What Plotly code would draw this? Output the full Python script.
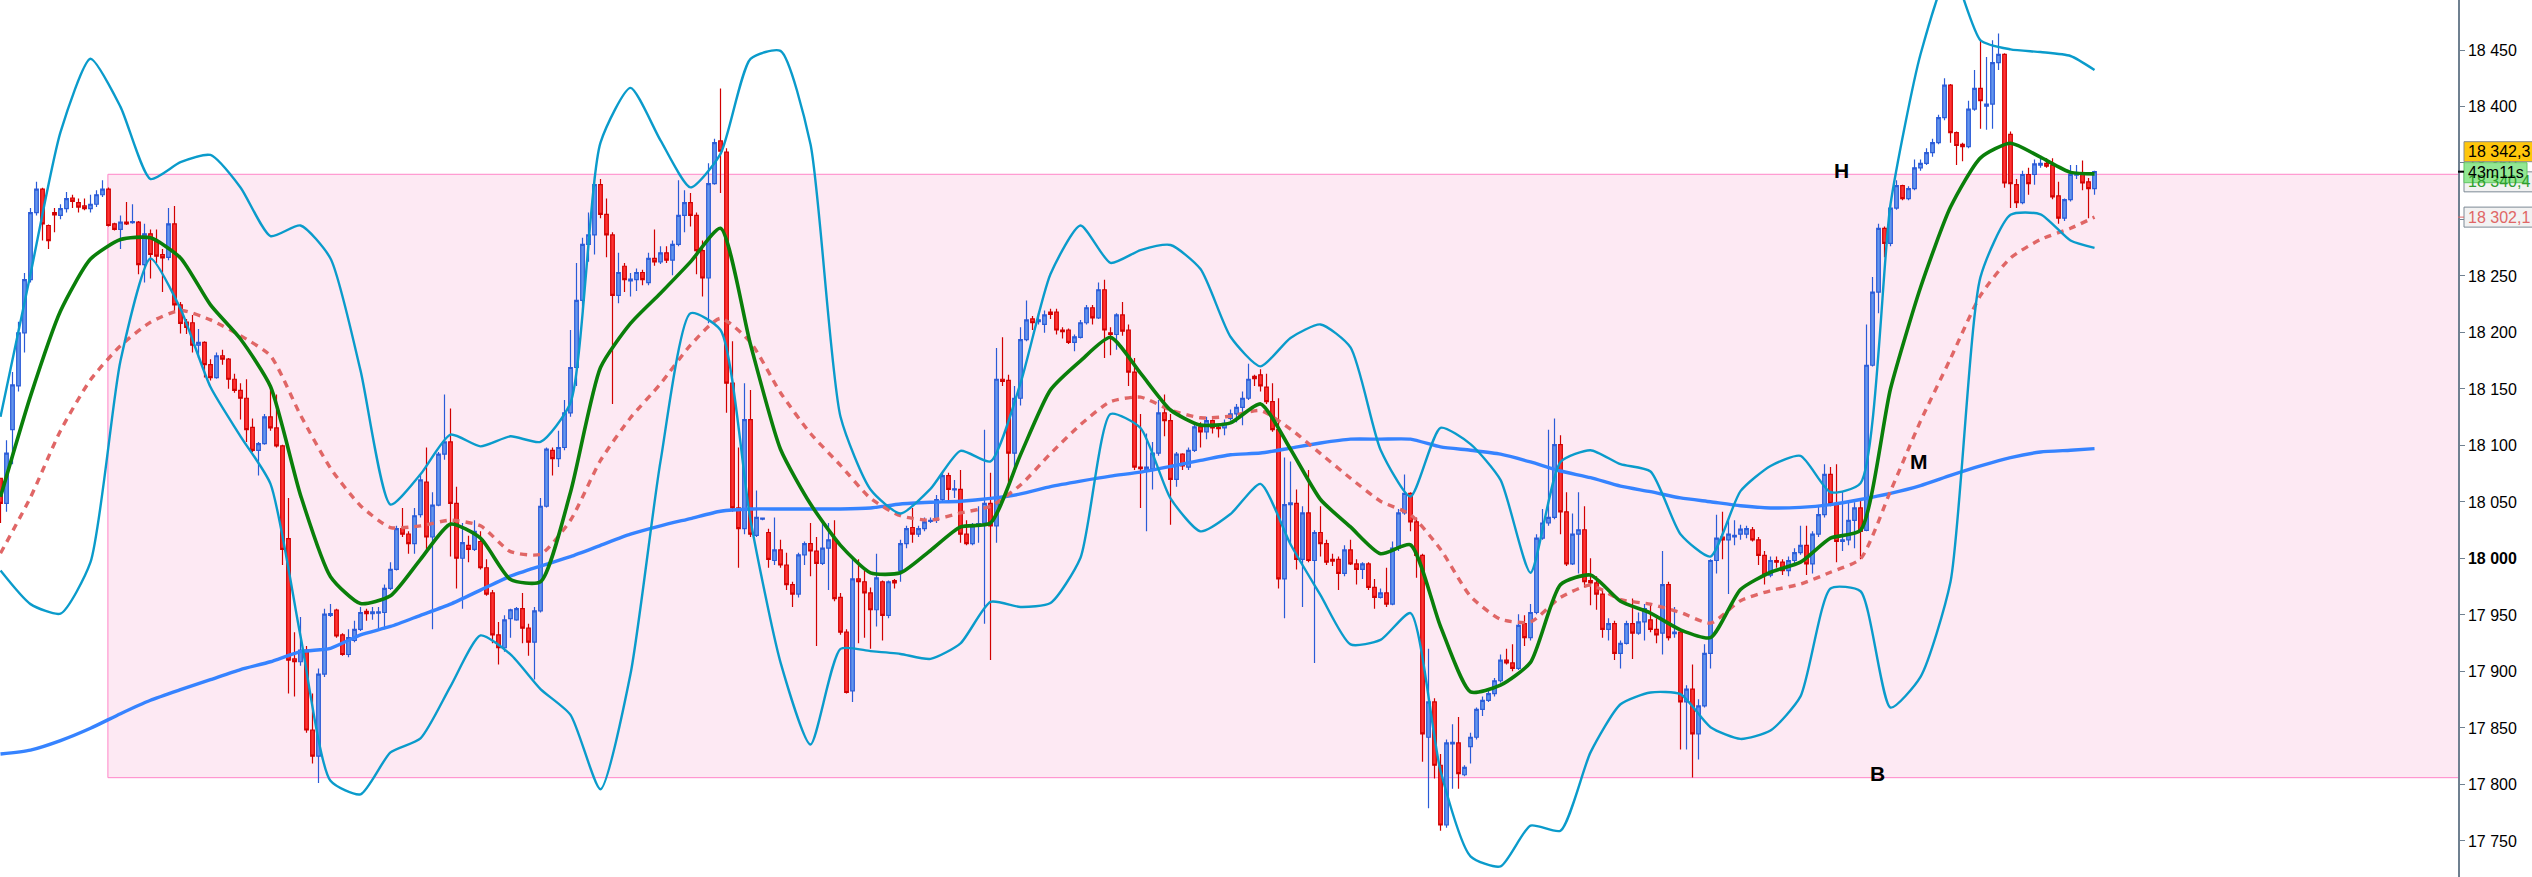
import plotly.graph_objects as go

# ---------------- candle data (index = bar number) ----------------
opens = [
18071.0, 18048.7, 18114.0, 18152.7, 18199.7, 18246.7, 18306.1, 18326.9, 18294.7, 18306.1,
18303.6, 18309.6, 18319.0, 18315.0, 18312.0, 18309.6, 18313.5, 18321.9, 18326.9, 18296.2,
18291.2, 18297.7, 18297.2, 18297.7, 18260.1, 18287.3, 18280.4, 18269.0, 18266.5, 18296.2,
18224.4, 18209.1, 18208.6, 18188.8, 18191.3, 18171.5, 18160.1, 18179.4, 18176.4, 18158.6,
18148.7, 18141.8, 18116.0, 18095.7, 18101.7, 18125.4, 18115.5, 18099.7, 18017.5, 17911.1,
17908.6, 17919.0, 17848.2, 17825.0, 17897.7, 17949.7, 17954.2, 17932.4, 17915.0, 17927.4,
17937.3, 17953.2, 17951.2, 17951.7, 17952.2, 17973.5, 17990.3, 18026.4, 18021.5, 18013.1,
18038.8, 18067.5, 18019.0, 18047.2, 18092.3, 18103.1, 18048.7, 18000.2, 18011.6, 18008.1,
18015.0, 17991.8, 17969.5, 17932.4, 17921.0, 17946.7, 17945.7, 17955.6, 17938.3, 17925.9,
17953.7, 18046.2, 18095.7, 18088.3, 18098.2, 18128.9, 18169.0, 18228.4, 18277.9, 18286.3,
18330.8, 18304.6, 18286.3, 18232.8, 18258.6, 18245.7, 18246.7, 18253.1, 18244.2, 18265.5,
18262.5, 18270.5, 18264.0, 18277.9, 18303.6, 18315.0, 18303.6, 18272.4, 18248.2, 18331.8,
18369.5, 18359.6, 18155.1, 18044.7, 18026.4, 18122.9, 18020.5, 18034.8, 18023.0, 17998.2,
18007.6, 17994.2, 17976.9, 17968.5, 18003.2, 18013.1, 18006.6, 17995.7, 18009.1, 18017.5,
17965.5, 17934.8, 17882.9, 17981.9, 17979.4, 17969.5, 17954.6, 17979.4, 17949.7, 17980.4,
17989.3, 18013.1, 18027.4, 18021.5, 18026.4, 18032.9, 18033.8, 18052.2, 18073.4, 18060.6,
18061.1, 18021.5, 18013.1, 18029.9, 18031.4, 18048.7, 18028.9, 18158.6, 18157.6, 18093.2,
18141.8, 18193.7, 18212.0, 18209.6, 18207.1, 18218.0, 18218.0, 18202.2, 18202.2, 18191.3,
18195.7, 18208.6, 18221.9, 18213.0, 18237.8, 18199.7, 18198.2, 18215.5, 18202.2, 18165.0,
18080.9, 18078.4, 18079.4, 18093.2, 18128.9, 18122.0, 18070.0, 18092.3, 18080.9, 18095.7,
18116.5, 18112.1, 18122.0, 18116.0, 18115.5, 18123.9, 18127.9, 18133.8, 18141.8, 18161.1,
18162.5, 18151.7, 18138.8, 18114.0, 17981.9, 18047.7, 18048.7, 17999.2, 18040.3, 17998.2,
18023.0, 18013.1, 17999.2, 17999.2, 17986.8, 18007.6, 17995.2, 17990.3, 17995.2, 17974.4,
17965.5, 17969.5, 17959.6, 18009.1, 18040.3, 18057.6, 18032.4, 18002.7, 17841.8, 17873.0,
17817.0, 17764.1, 17835.8, 17836.8, 17808.6, 17833.4, 17841.8, 17866.5, 17874.5, 17880.4,
17891.8, 17910.1, 17907.6, 17902.7, 17942.3, 17929.9, 17952.2, 18018.0, 18031.4, 18036.3,
18100.7, 18041.3, 17995.2, 18021.5, 18025.4, 17980.4, 17978.4, 17968.5, 17937.3, 17942.3,
17916.0, 17924.9, 17942.3, 17933.9, 17943.8, 17945.7, 17937.3, 17933.9, 17976.9, 17933.4,
17934.8, 17873.0, 17884.4, 17844.8, 17869.5, 17916.0, 17998.2, 18019.0, 18016.5, 18019.0,
18021.5, 18021.5, 18025.4, 18016.5, 18002.7, 17985.3, 17998.2, 17996.7, 17989.3, 17998.2,
18005.1, 18011.6, 17995.2, 18021.5, 18038.8, 18074.4, 18048.7, 18015.0, 18016.5, 18033.8,
18044.7, 18024.9, 18171.0, 18235.8, 18292.2, 18278.9, 18310.1, 18329.9, 18318.5, 18327.4,
18345.7, 18349.7, 18359.1, 18368.0, 18390.2, 18419.0, 18376.9, 18366.5, 18364.5, 18397.7,
18416.0, 18400.2, 18402.1, 18438.8, 18446.2, 18375.4, 18330.8, 18315.0, 18339.8, 18339.8,
18348.2, 18349.7, 18348.2, 18320.9, 18301.2, 18317.5, 18339.3, 18339.8, 18333.3, 18327.4,
]
highs = [
18071.0, 18104.6, 18165.0, 18209.6, 18252.6, 18310.1, 18333.3, 18328.0, 18295.5, 18310.1,
18313.5, 18324.4, 18321.9, 18318.5, 18318.5, 18321.9, 18325.9, 18334.8, 18328.4, 18297.2,
18303.6, 18315.5, 18313.5, 18298.7, 18296.2, 18291.2, 18291.2, 18273.9, 18310.1, 18312.0,
18226.9, 18212.0, 18215.5, 18203.1, 18192.3, 18176.4, 18182.3, 18184.8, 18177.4, 18163.5,
18155.1, 18158.6, 18123.9, 18103.1, 18127.9, 18152.7, 18145.2, 18100.7, 18053.6, 17934.8,
17948.2, 17922.5, 17880.4, 17902.7, 17955.6, 17959.6, 17955.6, 17933.9, 17937.3, 17944.8,
17957.1, 17955.6, 17957.1, 17957.1, 17976.9, 17996.7, 18028.9, 18044.7, 18024.0, 18044.7,
18074.4, 18098.2, 18058.6, 18094.2, 18145.2, 18132.8, 18063.5, 18031.4, 18020.0, 18033.8,
18024.0, 17999.2, 17972.0, 17943.8, 17949.7, 17955.6, 17957.1, 17969.5, 17942.3, 17957.1,
18053.6, 18098.2, 18098.2, 18113.1, 18140.3, 18202.2, 18261.5, 18283.8, 18306.1, 18338.3,
18335.8, 18318.5, 18288.8, 18270.5, 18261.5, 18252.6, 18256.6, 18255.6, 18270.5, 18291.2,
18276.4, 18276.4, 18281.3, 18334.8, 18325.9, 18323.4, 18306.1, 18281.3, 18349.7, 18371.4,
18416.0, 18363.0, 18192.3, 18098.2, 18155.1, 18149.2, 18060.1, 18036.3, 18026.4, 18036.3,
18016.5, 18005.1, 17979.4, 18005.1, 18015.0, 18031.4, 18019.0, 18033.8, 18031.4, 18033.8,
17969.5, 17937.3, 17999.2, 17999.2, 17989.3, 17974.4, 18004.2, 17980.4, 17980.4, 17981.9,
18016.5, 18028.9, 18044.7, 18028.9, 18036.3, 18036.3, 18056.1, 18075.9, 18075.9, 18069.5,
18078.4, 18033.8, 18031.4, 18046.2, 18114.0, 18075.9, 18186.3, 18195.7, 18162.5, 18152.7,
18204.6, 18228.4, 18214.5, 18217.0, 18219.5, 18221.0, 18221.0, 18204.6, 18203.6, 18198.2,
18211.1, 18224.4, 18224.4, 18244.2, 18246.7, 18204.6, 18217.0, 18226.9, 18207.1, 18177.4,
18127.9, 18110.6, 18103.1, 18140.3, 18145.2, 18127.9, 18094.2, 18093.2, 18098.2, 18120.5,
18120.5, 18125.4, 18123.0, 18118.0, 18123.0, 18131.9, 18136.8, 18147.7, 18172.4, 18162.5,
18167.5, 18163.5, 18155.1, 18141.8, 18089.3, 18085.9, 18061.1, 18046.2, 18078.4, 18024.9,
18046.2, 18016.5, 18004.2, 18001.7, 18011.6, 18016.5, 17999.2, 17996.7, 17996.7, 17981.9,
17973.5, 17991.8, 18015.0, 18043.7, 18074.4, 18058.6, 18036.3, 18004.2, 17920.0, 17876.4,
17826.9, 17839.8, 17853.2, 17859.6, 17817.0, 17845.7, 17868.0, 17877.9, 17882.9, 17894.2,
17915.0, 17920.0, 17924.0, 17950.7, 17949.7, 17959.6, 18021.5, 18043.7, 18114.0, 18123.9,
18109.1, 18058.6, 18039.8, 18058.6, 18046.2, 18000.2, 17984.3, 17972.0, 17947.2, 17944.8,
17927.4, 17944.8, 17964.5, 17952.2, 17959.6, 17959.6, 17947.2, 18006.6, 17979.4, 17957.1,
17937.3, 17887.8, 17906.1, 17875.4, 17924.0, 17999.2, 18038.8, 18041.3, 18033.8, 18033.8,
18029.9, 18028.9, 18027.9, 18019.0, 18006.6, 18001.7, 18001.7, 17999.2, 18001.7, 18009.1,
18028.9, 18028.9, 18024.0, 18046.2, 18083.3, 18080.9, 18083.3, 18059.6, 18051.2, 18049.7,
18051.2, 18207.1, 18249.2, 18296.2, 18293.7, 18313.5, 18334.8, 18330.8, 18329.4, 18353.1,
18353.1, 18363.0, 18371.4, 18392.7, 18424.9, 18419.9, 18377.9, 18368.0, 18405.1, 18432.3,
18458.6, 18443.7, 18458.6, 18464.5, 18447.2, 18377.9, 18335.8, 18343.2, 18345.7, 18353.1,
18355.6, 18354.1, 18354.1, 18333.3, 18318.5, 18348.2, 18348.2, 18352.1, 18336.8, 18343.2,
]
lows = [
18031.4, 18041.3, 18083.3, 18147.7, 18182.3, 18244.2, 18303.6, 18281.3, 18273.9, 18288.8,
18300.2, 18306.1, 18310.1, 18306.1, 18308.1, 18306.1, 18311.0, 18320.0, 18293.7, 18290.3,
18273.9, 18295.2, 18296.2, 18251.6, 18244.2, 18247.7, 18261.5, 18235.8, 18264.0, 18218.0,
18199.2, 18198.7, 18182.3, 18177.4, 18160.1, 18157.6, 18159.1, 18171.5, 18150.2, 18146.7,
18122.9, 18103.1, 18094.2, 18073.4, 18100.7, 18113.1, 18098.2, 17994.2, 17880.4, 17877.9,
17905.1, 17845.7, 17818.5, 17801.2, 17895.2, 17948.2, 17929.9, 17914.0, 17912.6, 17925.9,
17935.8, 17944.8, 17945.7, 17937.3, 17937.3, 17972.0, 17989.3, 18019.0, 18004.2, 18004.2,
18036.3, 18008.1, 17937.3, 18046.2, 18087.3, 18001.7, 17973.5, 17955.6, 17996.7, 18006.6,
17990.3, 17967.0, 17924.9, 17906.1, 17917.5, 17929.9, 17944.8, 17924.9, 17914.0, 17892.8,
17952.2, 18045.2, 18073.4, 18080.9, 18095.7, 18125.4, 18152.7, 18219.5, 18262.5, 18269.0,
18301.2, 18266.5, 18136.8, 18225.9, 18235.8, 18231.8, 18236.8, 18241.7, 18241.7, 18259.1,
18260.6, 18261.5, 18250.7, 18276.4, 18288.8, 18293.7, 18251.6, 18231.8, 18208.1, 18330.8,
18323.4, 18128.9, 18041.3, 17991.8, 18021.5, 18019.0, 18019.0, 18033.8, 17991.8, 17994.2,
17991.8, 17972.0, 17957.1, 17965.5, 17994.2, 17984.3, 17922.5, 17994.2, 17972.0, 17962.1,
17932.4, 17880.4, 17873.0, 17924.9, 17929.9, 17920.0, 17939.8, 17927.4, 17947.2, 17973.5,
17979.4, 18009.1, 18014.0, 18019.0, 18024.0, 18031.4, 18031.4, 18050.2, 18051.2, 18053.6,
18014.0, 18011.6, 18011.6, 18014.0, 17942.3, 17910.1, 18014.0, 18152.7, 18063.5, 18075.9,
18135.3, 18192.3, 18202.2, 18207.1, 18199.7, 18212.0, 18198.2, 18194.7, 18189.8, 18183.3,
18194.7, 18207.1, 18207.1, 18212.0, 18177.4, 18179.9, 18184.8, 18197.2, 18152.7, 18078.4,
18044.7, 18024.0, 18061.1, 18090.8, 18108.1, 18029.9, 18063.5, 18078.4, 18078.4, 18094.2,
18098.2, 18105.6, 18110.6, 18107.1, 18109.1, 18122.0, 18120.5, 18118.0, 18140.3, 18152.7,
18147.7, 18136.8, 18112.1, 17973.5, 17947.2, 18011.6, 17990.3, 17957.1, 17996.7, 17907.6,
18001.7, 17994.2, 17993.3, 17972.0, 17984.3, 17994.2, 17976.9, 17981.9, 17972.0, 17955.6,
17964.5, 17957.1, 17958.6, 18006.6, 18038.8, 18024.0, 17982.9, 17820.0, 17778.9, 17805.2,
17759.1, 17761.6, 17796.3, 17796.3, 17807.2, 17818.5, 17839.8, 17860.6, 17873.0, 17877.9,
17890.3, 17906.1, 17900.2, 17901.2, 17922.5, 17927.4, 17950.7, 18016.5, 18028.9, 18034.8,
18021.5, 17993.3, 17994.2, 17986.8, 17974.4, 17958.6, 17954.6, 17929.9, 17927.4, 17910.1,
17902.7, 17923.9, 17911.1, 17932.4, 17927.4, 17934.8, 17924.9, 17915.0, 17927.4, 17929.9,
17830.9, 17830.9, 17806.1, 17822.0, 17868.0, 17902.7, 17986.8, 17999.2, 17968.5, 18011.6,
18016.5, 18018.0, 18015.0, 17994.2, 17976.9, 17983.4, 17991.8, 17985.3, 17984.3, 17994.2,
18003.2, 17985.3, 17986.8, 18019.0, 18036.3, 18046.2, 17996.7, 18006.6, 18011.6, 18009.1,
17999.2, 18024.0, 18170.0, 18217.0, 18266.5, 18276.4, 18308.6, 18317.0, 18317.0, 18325.9,
18343.2, 18348.2, 18355.6, 18366.5, 18387.8, 18368.0, 18348.2, 18351.6, 18363.0, 18396.2,
18380.3, 18379.4, 18380.3, 18432.3, 18328.0, 18310.1, 18310.1, 18313.5, 18321.9, 18330.8,
18345.7, 18345.7, 18318.0, 18296.2, 18298.7, 18316.0, 18335.8, 18325.9, 18301.2, 18321.9,
]
closes = [
18048.7, 18093.2, 18153.6, 18199.7, 18246.7, 18306.1, 18326.9, 18296.2, 18281.3, 18304.1,
18309.6, 18318.5, 18316.0, 18311.0, 18309.6, 18313.5, 18321.9, 18326.9, 18294.7, 18291.2,
18297.7, 18296.2, 18298.2, 18260.1, 18287.3, 18269.0, 18267.5, 18266.0, 18296.2, 18224.4,
18208.1, 18204.6, 18188.8, 18191.3, 18171.5, 18160.1, 18179.4, 18176.4, 18158.6, 18148.7,
18141.8, 18114.0, 18095.7, 18101.7, 18125.4, 18115.5, 18099.7, 18008.1, 17910.1, 17908.6,
17919.0, 17848.2, 17825.0, 17897.7, 17950.7, 17951.2, 17931.4, 17915.0, 17929.9, 17937.3,
17952.2, 17951.2, 17952.7, 17952.7, 17973.5, 17990.3, 18026.4, 18021.5, 18013.1, 18037.8,
18069.5, 18019.0, 18047.2, 18092.3, 18103.1, 18048.7, 18000.2, 18014.0, 18008.1, 18024.0,
17991.8, 17968.5, 17932.4, 17921.0, 17945.7, 17954.6, 17955.6, 17938.3, 17925.9, 17953.7,
18046.2, 18096.7, 18088.3, 18098.2, 18128.9, 18169.0, 18228.4, 18277.9, 18286.3, 18330.8,
18304.6, 18286.3, 18232.8, 18253.1, 18246.7, 18247.2, 18253.1, 18246.7, 18265.5, 18262.5,
18270.5, 18264.0, 18277.9, 18303.6, 18315.0, 18303.6, 18272.4, 18248.2, 18331.8, 18368.0,
18360.5, 18155.1, 18044.7, 18026.4, 18122.9, 18021.5, 18036.3, 18035.8, 17999.2, 18007.6,
17994.2, 17976.9, 17968.5, 18003.2, 18013.1, 18006.6, 17995.7, 18009.1, 18016.5, 17964.5,
17934.8, 17881.4, 17981.9, 17979.4, 17969.5, 17954.6, 17982.9, 17949.7, 17979.4, 17978.4,
18013.1, 18026.4, 18021.5, 18026.4, 18032.4, 18033.8, 18052.2, 18073.4, 18061.1, 18061.6,
18021.5, 18013.1, 18028.9, 18030.9, 18048.7, 18028.9, 18158.6, 18156.6, 18093.2, 18141.8,
18193.7, 18211.1, 18208.6, 18211.1, 18215.5, 18216.0, 18202.2, 18200.7, 18191.3, 18196.2,
18208.6, 18221.9, 18213.0, 18237.8, 18202.2, 18198.2, 18215.5, 18201.2, 18165.0, 18080.9,
18079.4, 18080.9, 18093.2, 18128.9, 18122.0, 18070.0, 18092.3, 18081.9, 18095.7, 18116.5,
18112.1, 18122.0, 18115.5, 18115.0, 18119.5, 18127.9, 18133.8, 18141.8, 18158.6, 18159.1,
18152.7, 18138.8, 18114.0, 17981.9, 18047.7, 18049.2, 17999.2, 18040.3, 17998.2, 18023.0,
18013.1, 17996.7, 17997.7, 17986.8, 18007.6, 17995.2, 17990.3, 17995.2, 17974.4, 17965.5,
17969.5, 17959.6, 18009.1, 18040.3, 18057.6, 18032.4, 18002.7, 17844.8, 17873.0, 17817.0,
17764.1, 17836.8, 17837.3, 17809.6, 17815.1, 17841.8, 17866.5, 17874.5, 17880.4, 17891.8,
17910.1, 17907.6, 17902.7, 17940.8, 17929.9, 17952.2, 18018.0, 18031.4, 18036.3, 18100.7,
18041.3, 17995.2, 18021.5, 18025.4, 17979.4, 17978.4, 17968.5, 17937.3, 17942.3, 17916.0,
17924.9, 17942.3, 17933.9, 17943.8, 17955.6, 17937.3, 17932.4, 17976.9, 17929.9, 17934.8,
17873.0, 17884.4, 17844.8, 17869.5, 17916.0, 17998.2, 18018.0, 18016.5, 18021.5, 18020.5,
18025.9, 18026.4, 18016.5, 18002.7, 17985.3, 17998.2, 17996.7, 17989.3, 17998.2, 18005.1,
18011.6, 17995.2, 18021.5, 18038.8, 18074.4, 18048.7, 18015.0, 18016.5, 18033.8, 18044.7,
18024.0, 18171.0, 18235.8, 18292.2, 18278.9, 18310.1, 18329.9, 18318.5, 18327.4, 18345.7,
18349.7, 18359.1, 18368.0, 18390.2, 18419.0, 18376.9, 18365.5, 18364.5, 18397.7, 18416.0,
18405.1, 18402.1, 18438.8, 18446.2, 18332.3, 18331.8, 18315.0, 18339.8, 18331.8, 18349.2,
18349.7, 18347.2, 18320.0, 18301.2, 18317.5, 18339.8, 18340.3, 18332.3, 18327.4, 18342.3,
]
bars = list(range(len(opens)))

# ---------------- indicator lines (sampled every 5 bars + last bar) ----------------
line_bars = list(range(0, 350, 5)) + [349]
bb_upper = [
18125.4, 18251.7, 18377.4, 18442.2, 18399.7, 18335.8, 18350.7, 18357.1, 18328.4, 18285.3, 18294.7, 18265.5, 18166.5, 18047.7,
18074.5, 18109.6, 18099.2, 18108.1, 18103.2, 18137.8, 18368.0, 18416.5, 18370.0, 18328.4, 18358.1, 18442.2, 18449.2, 18366.5,
18125.4, 18061.1, 18039.8, 18061.6, 18095.3, 18085.9, 18155.1, 18251.7, 18294.7, 18261.6, 18272.9, 18277.4, 18256.1, 18196.2,
18170.0, 18195.2, 18207.1, 18186.8, 18096.3, 18054.7, 18115.6, 18101.2, 18069.5, 17987.4, 18085.4, 18095.8, 18083.4, 18077.0,
18021.5, 18001.7, 18059.6, 18081.9, 18090.8, 18058.6, 18066.6, 18313.5, 18446.2, 18521.4, 18458.6, 18450.6, 18448.2, 18444.7,
18432.3]
bb_lower = [
17989.3, 17959.6, 17951.2, 17996.7, 18175.0, 18265.5, 18221.0, 18151.7, 18108.1, 18066.0, 17931.4, 17803.2, 17791.3, 17828.4,
17840.8, 17886.8, 17931.9, 17915.1, 17884.4, 17861.6, 17795.8, 17897.7, 18085.9, 18217.0, 18202.2, 18033.9, 17908.1, 17835.4,
17920.0, 17918.0, 17915.5, 17911.1, 17924.9, 17961.6, 17957.1, 17960.6, 18000.7, 18127.9, 18115.5, 18053.2, 18024.0, 18039.3,
18066.0, 18012.6, 17967.5, 17923.9, 17927.9, 17951.7, 17812.1, 17736.4, 17727.5, 17763.6, 17759.1, 17828.4, 17871.0, 17881.4,
17879.9, 17850.7, 17840.3, 17847.7, 17877.9, 17973.5, 17971.0, 17868.0, 17895.2, 17979.4, 18249.2, 18304.1, 18304.6, 18281.4,
18274.9]
ma_green = [
18054.6, 18143.7, 18219.0, 18265.0, 18282.3, 18283.8, 18266.0, 18224.4, 18194.2, 18152.2, 18056.1, 17983.9, 17960.1, 17967.0,
17999.2, 18030.4, 18018.0, 17981.4, 17979.4, 18058.6, 18169.0, 18208.1, 18234.8, 18262.5, 18292.2, 18189.3, 18096.7, 18048.2,
18011.6, 17987.3, 17987.3, 18007.1, 18027.9, 18031.4, 18091.8, 18149.2, 18174.9, 18195.7, 18164.0, 18131.4, 18118.0, 18120.0,
18136.8, 18096.7, 18052.2, 18027.9, 18004.2, 18012.1, 17939.8, 17882.0, 17887.9, 17908.1, 17976.9, 17985.3, 17962.1, 17951.7,
17936.8, 17929.9, 17972.5, 17987.8, 17996.7, 18018.0, 18024.9, 18150.2, 18239.8, 18311.0, 18354.6, 18367.5, 18355.1, 18341.7,
18340.4]
ma_red = [
18004.6, 18054.1, 18113.1, 18158.1, 18188.3, 18209.1, 18219.5, 18211.1, 18197.2, 18179.4, 18126.9, 18079.9, 18046.7, 18027.4,
18028.9, 18033.9, 18028.9, 18006.1, 18003.7, 18033.9, 18086.8, 18124.5, 18154.6, 18188.8, 18212.5, 18191.3, 18146.7, 18110.6,
18082.4, 18053.2, 18037.8, 18033.9, 18040.3, 18046.2, 18065.0, 18092.8, 18118.5, 18138.8, 18142.8, 18131.4, 18124.5, 18125.9,
18130.9, 18114.5, 18092.8, 18071.0, 18050.7, 18038.8, 18008.1, 17966.5, 17946.2, 17943.8, 17965.5, 17976.4, 17963.6, 17959.6,
17952.2, 17942.8, 17962.6, 17971.5, 17977.4, 17987.8, 17999.7, 18059.6, 18121.5, 18176.9, 18232.8, 18266.0, 18282.3, 18292.2,
18302.1]
ma_blue = [
17826.9, 17830.4, 17838.8, 17849.7, 17862.6, 17874.5, 17883.9, 17892.8, 17901.7, 17908.6, 17917.5, 17920.5, 17932.4, 17939.8,
17949.7, 17959.6, 17972.0, 17984.4, 17993.3, 18001.7, 18011.6, 18021.5, 18028.9, 18035.3, 18041.8, 18043.8, 18043.8, 18043.8,
18043.8, 18044.7, 18048.2, 18049.7, 18050.7, 18053.2, 18057.1, 18063.6, 18068.5, 18072.9, 18076.4, 18081.4, 18086.8, 18091.8,
18093.3, 18097.7, 18102.2, 18105.6, 18105.6, 18105.6, 18098.7, 18095.8, 18092.3, 18085.4, 18077.4, 18071.5, 18064.0, 18059.1,
18053.6, 18050.2, 18046.7, 18044.7, 18045.2, 18047.7, 18052.2, 18057.6, 18064.5, 18073.5, 18081.9, 18089.3, 18094.2, 18095.8,
18097.2]

# ---------------- levels, labels, ticks ----------------
zone_high = 18340.0
zone_low = 17806.0
zone_start_bar = 17.9
level_labels = ["H", "M", "B"]
level_label_bars = [306.75, 319.8, 312.75]
level_label_prices = [18343.5, 18085.8, 17809.3]
tick_values = [17750, 17800, 17850, 17900, 17950, 18000, 18050, 18100,
               18150, 18200, 18250, 18300, 18350, 18400, 18450]
tick_texts = ["17 750", "17 800", "17 850", "17 900", "17 950", "<b>18 000</b>", "18 050", "18 100",
              "18 150", "18 200", "18 250", "18 300", "18 350", "18 400", "18 450"]
last_price = 18342.3
green_last = 18340.4
red_last = 18302.1
timer_text = "43m11s"

# ---------------- figure ----------------
W, H = 2532, 877
R = 74
PW = W - R
Y0, Y1 = 17718.1, 18494.25

fig = go.Figure()
fig.add_trace(go.Candlestick(
    x=bars, open=opens, high=highs, low=lows, close=closes,
    increasing=dict(line=dict(color="#2a5bd7", width=1.2), fillcolor="#6495ED"),
    decreasing=dict(line=dict(color="#d10000", width=1.2), fillcolor="#FF3333"),
    whiskerwidth=0, hoverinfo="skip", showlegend=False))

def add_line(vals, color, width, dash="solid"):
    fig.add_trace(go.Scatter(x=line_bars, y=vals, mode="lines",
                             line=dict(color=color, width=width, dash=dash, shape="spline", smoothing=0.6),
                             hoverinfo="skip", showlegend=False))

add_line(ma_blue, "#3683FF", 3.4)
add_line(ma_red, "#E06666", 3.4, "7px,6px")
add_line(bb_upper, "#0A9BCB", 2.4)
add_line(bb_lower, "#0A9BCB", 2.4)
add_line(ma_green, "#0A7F0A", 3.6)

# pink zone
fig.add_shape(type="rect", xref="x", yref="y", x0=zone_start_bar, x1=430, y0=zone_low, y1=zone_high,
              fillcolor="#FDE9F3", line=dict(color="#FF85C8", width=1), layer="below")

for t, xb, yp in zip(level_labels, level_label_bars, level_label_prices):
    fig.add_annotation(x=xb, y=yp, xref="x", yref="y", text="<b>%s</b>" % t, showarrow=False,
                       font=dict(family="Liberation Sans, Arial", size=21, color="black"),
                       xanchor="center", yanchor="middle")

def py(price):
    return (price - Y0) / (Y1 - Y0)

def px(pix):
    return pix / PW

# right-side price boxes
boxes = [
    (-20, last_price, "#FFC60B", "#8b8b8b", "18 342,3", "black", 2545),
    (8, green_last, "#F2F2F2", "#7d8a96", "18 340,4", "#2E9E2E", 2545),
    (1, last_price, "#93E793", "#64c864", timer_text, "black", 2527),
    (0, red_last, "#F2F2F2", "#7d8a96", "18 302,1", "#E06666", 2545),
]
for dy, price, fill, border, txt, tcol, x1 in boxes:
    yc = py(price) - dy / H
    fig.add_shape(type="rect", xref="paper", yref="paper", x0=px(2464), x1=px(x1),
                  y0=yc - 10 / H, y1=yc + 10 / H, fillcolor=fill, line=dict(color=border, width=1))
    fig.add_annotation(xref="paper", yref="paper", x=px(2466), y=yc, text=txt, showarrow=False,
                       xanchor="left", yanchor="middle",
                       font=dict(family="Liberation Sans, Arial", size=16, color=tcol))

fig.add_shape(type="line", xref="paper", yref="paper", x0=1, x1=px(2464), y0=py(last_price), y1=py(last_price),
              line=dict(color="black", width=2))
fig.add_shape(type="line", xref="paper", yref="paper", x0=1, x1=px(2464), y0=py(red_last), y1=py(red_last),
              line=dict(color="#E06666", width=1))

fig.update_layout(
    width=W, height=H,
    margin=dict(l=0, r=R, t=0, b=0, pad=0),
    paper_bgcolor="white", plot_bgcolor="white",
    boxgap=0.14,
    xaxis=dict(range=[-0.083, 409.58], showticklabels=False, showgrid=False, zeroline=False,
               showline=False, rangeslider=dict(visible=False), fixedrange=True),
    yaxis=dict(range=[Y0, Y1], side="right", tickvals=tick_values, ticktext=tick_texts,
               ticks="outside", ticklen=5, tickcolor="#6f8090", tickwidth=1,
               showline=True, linecolor="#6f8090", linewidth=1.5,
               showgrid=False, zeroline=False, fixedrange=True,
               tickfont=dict(family="Liberation Sans, Arial", size=16, color="black")),
    showlegend=False,
)

fig.write_html("out.html", config={"displayModeBar": False},
               post_script="document.body.style.margin='0';document.body.style.overflow='hidden';")
